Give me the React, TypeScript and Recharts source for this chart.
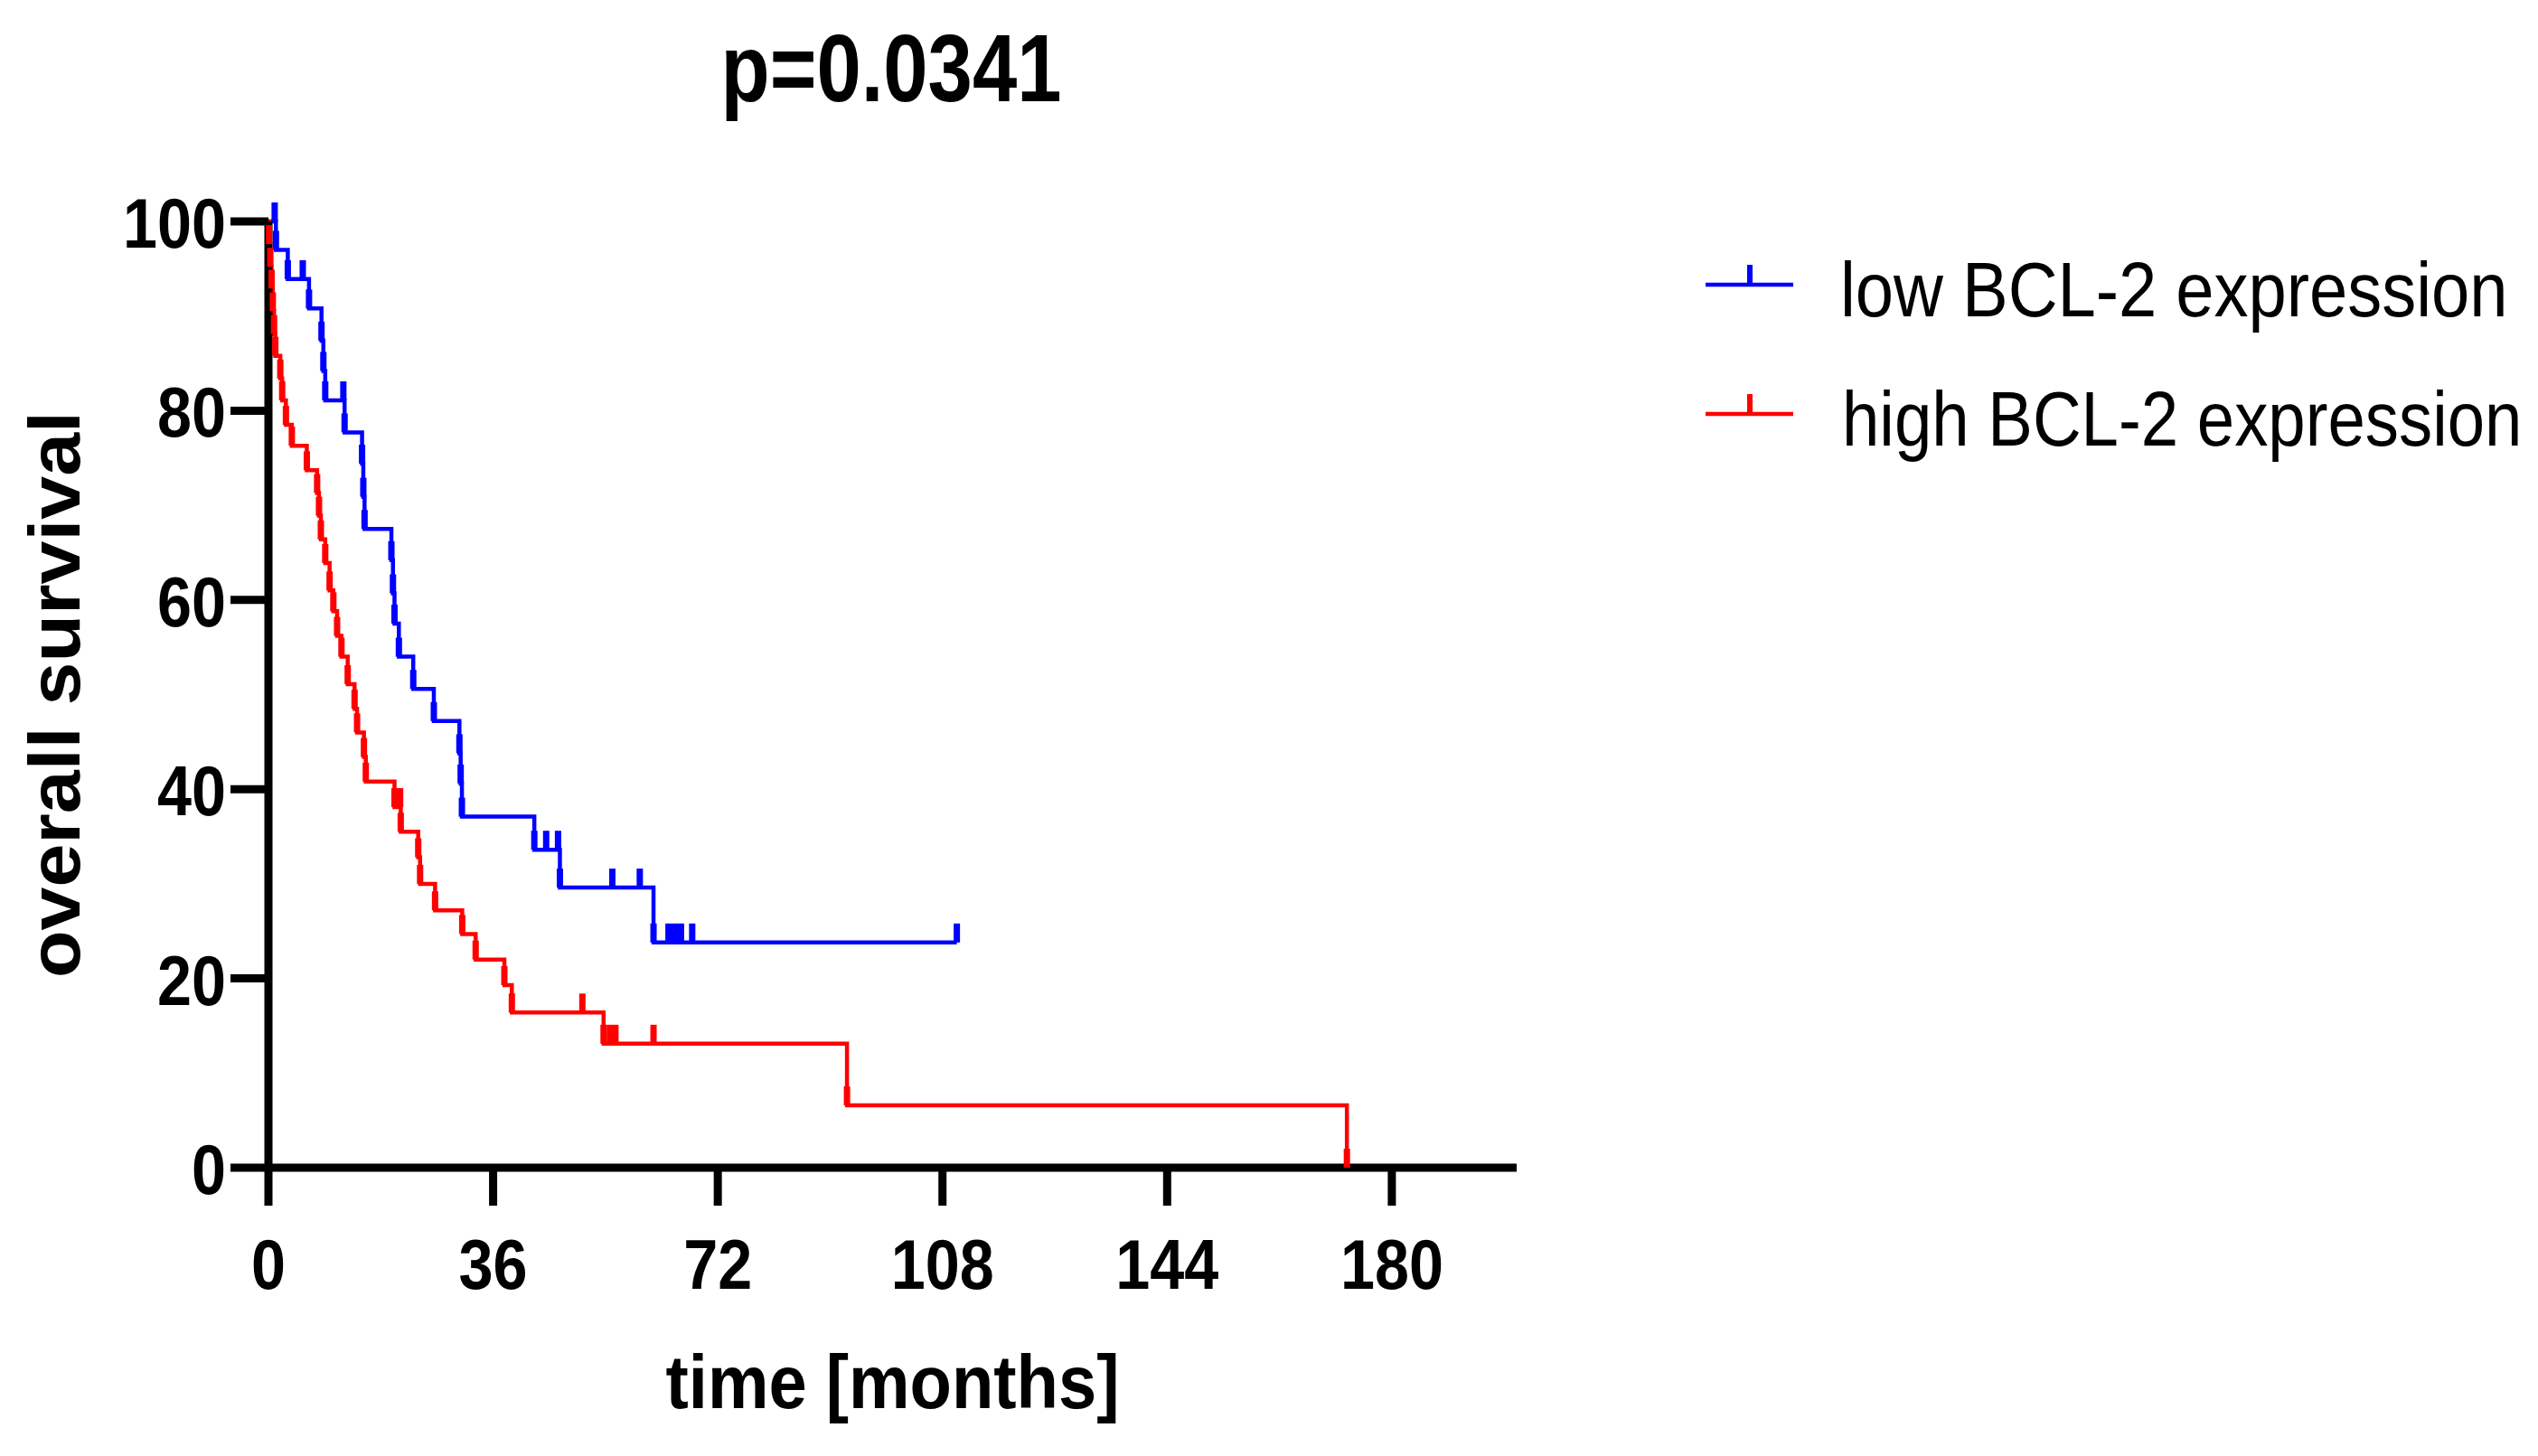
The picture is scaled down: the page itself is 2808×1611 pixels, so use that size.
import React from 'react';
import { LineChart, Line, XAxis, YAxis, Legend, Customized } from 'recharts';

// ---------- data ----------
const TITLE = 'p=0.0341';
const X_LABEL = 'time [months]';
const Y_LABEL = 'overall survival';
const SERIES_NAMES = ['low BCL-2 expression', 'high BCL-2 expression'];
const SERIES_COLORS = ['#0000FF', '#FF0000'];
const X_TICKS = [0, 36, 72, 108, 144, 180];
const Y_TICKS = [0, 20, 40, 60, 80, 100];

const lowTimes = [0, 1.0, 1.2, 3.1, 5.5, 6.5, 8.5, 8.8, 9.1, 12.0, 12.2, 15.0, 15.2, 15.4, 19.7, 19.95, 20.2, 20.9, 23.2, 26.5, 30.6, 30.8, 31.0, 42.6, 44.5, 46.4, 46.7, 55.1, 59.5, 61.7, 64.1, 65.1, 66.1, 67.9, 110.3];
const lowSurvival = [100, 100, 97.0, 93.9, 93.9, 90.8, 87.4, 84.2, 81.1, 81.1, 77.7, 74.4, 70.9, 67.5, 64.2, 60.7, 57.5, 54.0, 50.6, 47.2, 43.8, 40.6, 37.1, 33.6, 33.6, 33.6, 29.6, 29.6, 29.6, 23.8, 23.8, 23.8, 23.8, 23.8, 23.8];

const highTimes = [0, 0.1, 0.3, 0.5, 0.7, 0.9, 1.1, 1.9, 2.2, 2.8, 3.75, 6.15, 7.8, 8.1, 8.4, 9.1, 9.8, 10.4, 11.0, 11.7, 12.7, 13.8, 14.2, 15.3, 15.6, 20.2, 20.7, 21.1, 21.2, 24.0, 24.3, 26.7, 31.05, 33.2, 37.8, 39.0, 50.3, 53.7, 54.7, 55.6, 61.7, 92.7, 172.8];
const highSurvival = [100, 97.6, 95.2, 92.9, 90.5, 88.1, 85.8, 83.4, 81.1, 78.5, 76.3, 73.7, 71.3, 68.9, 66.4, 63.9, 61.0, 58.8, 56.2, 54.0, 51.1, 48.5, 46.0, 43.4, 40.8, 38.1, 38.1, 38.1, 35.5, 32.8, 30.0, 27.2, 24.7, 22.0, 19.3, 16.4, 16.4, 13.1, 13.1, 13.1, 13.1, 6.6, 0];

const lowData = lowTimes.map((t, i) => ({ t, s: lowSurvival[i] }));
const highData = highTimes.map((t, i) => ({ t, s: highSurvival[i] }));

// ---------- layout ----------
const W = 2800;
const H = 1600;
const PLOT = { left: 289, top: 237, right: 1670, bottom: 1284 };
const Y_AXIS_W = 100;
const X_AXIS_H = 100;
const FONT = '"Liberation Sans", Arial, Helvetica, sans-serif';
const TICK_FONT = 78;
const CHAR_W = 38;

const XTick = (props: any) => {
  const { x, y, payload } = props;
  const s = String(payload.value);
  return (
    <text x={x} y={y + 92} textAnchor="middle" fontFamily={FONT} fontWeight={700} fontSize={TICK_FONT} fill="#000"
      textLength={s.length * CHAR_W} lengthAdjust="spacingAndGlyphs">{s}</text>
  );
};

const YTick = (props: any) => {
  const { x, y, payload } = props;
  const s = String(payload.value);
  return (
    <text x={x - 5} y={y + 29} textAnchor="end" fontFamily={FONT} fontWeight={700} fontSize={TICK_FONT} fill="#000"
      textLength={s.length * CHAR_W} lengthAdjust="spacingAndGlyphs">{s}</text>
  );
};

const makeDot = (color: string) => (props: any) => {
  const { cx, cy, index } = props;
  if (index === 0 || cx == null || cy == null) return <g key={`e${index}`} />;
  return <rect key={`d${index}`} x={cx - 3.5} y={cy - 21} width={7} height={21} fill={color} />;
};

const Annotations = () => {
  const cx = (PLOT.left + PLOT.right) / 2;
  const cy = (PLOT.top + PLOT.bottom) / 2;
  return (
    <g>
      <text x={cx - 1.5} y={104} textAnchor="middle" fontFamily={FONT} fontWeight={700} fontSize={106} fill="#000"
        textLength={377} lengthAdjust="spacingAndGlyphs">{TITLE}</text>
      <text x={cx} y={1550} textAnchor="middle" fontFamily={FONT} fontWeight={700} fontSize={83} fill="#000"
        textLength={502} lengthAdjust="spacingAndGlyphs">{X_LABEL}</text>
      <text transform={`translate(80, ${cy}) rotate(-90) scale(1, 0.92)`} x={0} y={0} textAnchor="middle"
        fontFamily={FONT} fontWeight={700} fontSize={86} fill="#000"
        textLength={627} lengthAdjust="spacingAndGlyphs">{Y_LABEL}</text>
    </g>
  );
};

// horizontal squeeze of the legend labels (the reference text is condensed)
const LEGEND_SCALE = [0.883, 0.865];
const LEGEND_TEXT_X = [166, 168];

const LegendContent = () => {
  return (
    <svg width={938} height={260} style={{ overflow: 'visible', display: 'block' }}>
      {SERIES_NAMES.map((name, i) => {
        const ly = 45 + i * 143;
        const color = SERIES_COLORS[i];
        return (
          <g key={name}>
            <line x1={17} x2={114} y1={ly} y2={ly} stroke={color} strokeWidth={4.5} />
            <rect x={63} y={ly - 22} width={6} height={22} fill={color} />
            <text transform={`translate(${LEGEND_TEXT_X[i]}, ${ly + 35}) scale(${LEGEND_SCALE[i]}, 1)`} x={0} y={0}
              fontFamily={FONT} fontSize={86} fill="#000">{name}</text>
          </g>
        );
      })}
    </svg>
  );
};

export default function App() {
  return (
    <div style={{ width: W, height: H, position: 'relative', background: '#fff' }}>
      <LineChart
        width={W}
        height={H}
        margin={{ top: PLOT.top, right: W - PLOT.right, bottom: H - PLOT.bottom - X_AXIS_H, left: PLOT.left - Y_AXIS_W }}
      >
        <XAxis
          type="number"
          dataKey="t"
          domain={[0, 200]}
          ticks={X_TICKS}
          height={X_AXIS_H}
          tickSize={42}
          tickMargin={0}
          axisLine={{ stroke: '#000', strokeWidth: 9 }}
          tickLine={{ stroke: '#000', strokeWidth: 9 }}
          tick={<XTick />}
          interval={0}
        />
        <YAxis
          type="number"
          dataKey="s"
          domain={[0, 100]}
          ticks={Y_TICKS}
          width={Y_AXIS_W}
          tickSize={42}
          tickMargin={0}
          axisLine={{ stroke: '#000', strokeWidth: 9 }}
          tickLine={{ stroke: '#000', strokeWidth: 9 }}
          tick={<YTick />}
          interval={0}
        />
        <Line
          data={lowData}
          dataKey="s"
          name={SERIES_NAMES[0]}
          type="stepAfter"
          stroke={SERIES_COLORS[0]}
          strokeWidth={4.5}
          dot={makeDot(SERIES_COLORS[0])}
          activeDot={false}
          isAnimationActive={false}
        />
        <Line
          data={highData}
          dataKey="s"
          name={SERIES_NAMES[1]}
          type="stepAfter"
          stroke={SERIES_COLORS[1]}
          strokeWidth={4.5}
          dot={makeDot(SERIES_COLORS[1])}
          activeDot={false}
          isAnimationActive={false}
        />
        <Legend
          layout="vertical"
          align="center"
          verticalAlign="middle"
          content={<LegendContent />}
          wrapperStyle={{ left: 1862, top: 262, width: 938, height: 260 }}
        />
        <Customized component={Annotations} />
      </LineChart>
    </div>
  );
}
